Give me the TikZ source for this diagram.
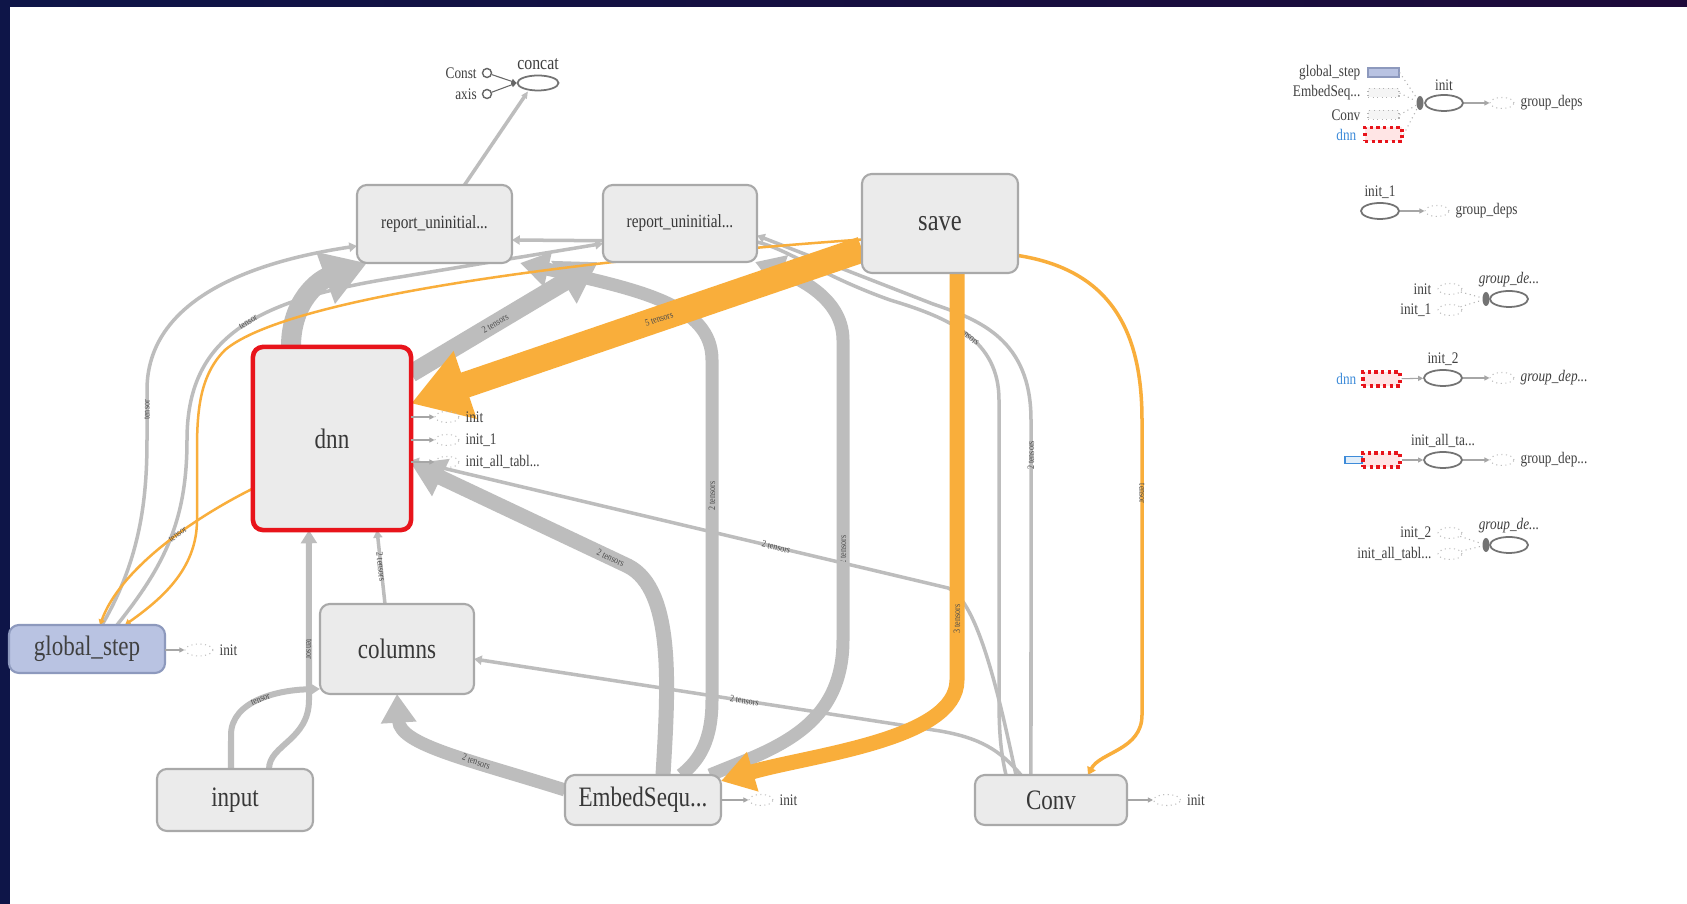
\documentclass[tikz,border=0pt]{standalone}
\usepackage{fontspec}
\setmainfont{Liberation Serif}[FakeStretch=0.82]
\usetikzlibrary{arrows.meta,shapes.geometric,positioning}
\definecolor{nodefill}{HTML}{EBEBEB}
\definecolor{nodeline}{HTML}{A9A9A9}
\definecolor{edgegray}{HTML}{BDBDBD}
\definecolor{reforange}{HTML}{F9AE3B}
\definecolor{dnnred}{HTML}{E8141B}
\definecolor{stepblue}{HTML}{B9C3E2}
\definecolor{stepline}{HTML}{8D99BD}
\definecolor{framedark}{HTML}{0E1548}
\definecolor{frametop}{HTML}{1E0A3A}
\definecolor{linkblue}{HTML}{3D8BD9}
\pgfdeclarelayer{back}
\pgfdeclarelayer{edges}
\pgfsetlayers{back,edges,main}

\tikzset{
	op/.style={draw=nodeline, fill=nodefill, rounded corners=0.1cm, line width=0.6pt, inner sep=0pt, outer sep=0pt, text=black!78, font=\fontsize{8}{9}\selectfont},
	gband/.style={line width=#1, -{Triangle[length=0pt 2.2, width=0pt 2.6]}},
	gline/.style={gband=0.035cm, draw=edgegray},
	oline/.style={gband=0.025cm, draw=reforange},
	elab/.style={font=\fontsize{2.8}{3}\selectfont, text=black!70, inner sep=0.5pt, sloped},
	tiny/.style={font=\fontsize{4.6}{5}\selectfont, inner sep=0.4pt, text=black!75},
	stub/.style={ellipse, draw=black!25, densely dotted, line width=0.3pt, minimum width=0.24cm, minimum height=0.11cm, inner sep=0pt},
	sarrow/.style={draw=black!35, line width=0.3pt, -{Triangle[length=0.05cm, width=0.05cm]}},
	oval/.style={ellipse, draw=black!55, line width=0.5pt, minimum width=0.38cm, minimum height=0.16cm, inner sep=0pt},
	mini/.style={rectangle, draw=black!30, densely dotted, line width=0.3pt, fill=black!4, minimum width=0.31cm, minimum height=0.09cm, inner sep=0pt},
	redmini/.style={mini, draw=dnnred, fill=red!10, line width=0.9pt, minimum width=0.37cm, minimum height=0.14cm},
	blob/.style={ellipse, fill=black!55, minimum width=0.07cm, minimum height=0.14cm, inner sep=0pt},
	cin/.style={circle, draw=black!60, line width=0.4pt, minimum size=0.09cm, inner sep=0pt}
}

\begin{document}
\begin{tikzpicture}[x=0.01cm,y=-0.01cm]
	\useasboundingbox (0,0) rectangle (1687,904);
	\begin{pgfonlayer}{back}
	\fill[framedark] (0,0) rectangle (1687,904);
	\shade[left color=framedark, right color=frametop] (0,0) rectangle (1687,7);
	\fill[white] (10,7) rectangle (1687,904);
	\end{pgfonlayer}

	% main graph
	\node[op, minimum width=1.55cm, minimum height=0.78cm, font=\fontsize{5.3}{6}\selectfont] (rptA) at (434.5,224) {report\_uninitial...};
	\node[op, minimum width=1.54cm, minimum height=0.77cm, font=\fontsize{5.3}{6}\selectfont] (rptB) at (680,223.5) {report\_uninitial...};
	\node[op, minimum width=1.56cm, minimum height=0.99cm, font=\fontsize{8.5}{9}\selectfont] (save) at (940,223.5) {save};
	\node[op, draw=dnnred, line width=1.3pt, minimum width=1.58cm, minimum height=1.83cm] (dnn) at (332,438.5) {dnn};
	\node[op, fill=stepblue, draw=stepline, text=black!75, minimum width=1.56cm, minimum height=0.48cm] (gstep) at (87,649) {global\_step};
	\node[op, minimum width=1.54cm, minimum height=0.90cm] (columns) at (397,649) {columns};
	\node[op, minimum width=1.56cm, minimum height=0.62cm] (input) at (235,800) {input};
	\node[op, minimum width=1.56cm, minimum height=0.50cm] (embed) at (643,800) {EmbedSequ...};
	\node[op, minimum width=1.52cm, minimum height=0.50cm] (conv) at (1051,800) {Conv};

	% concat
	\node[oval, minimum width=0.41cm, minimum height=0.15cm] (concat) at (538,83) {};
	\node[font=\fontsize{5.5}{6}\selectfont, text=black!75, inner sep=0.5pt, above=0.02cm of concat] (concatT) {concat};
	\node[cin] (cconst) at (487,73) {};
	\node[tiny, left=0.03cm of cconst] (cconstT) {Const};
	\node[cin] (caxis) at (487,94) {};
	\node[tiny, left=0.03cm of caxis] (caxisT) {axis};
	\draw[sarrow, draw=black!60] (cconst) -- (concat.west);
	\draw[sarrow, draw=black!60] (caxis) -- (concat.west);

	% init stubs
	\node[stub] (dn1) at (447,417) {};
	\node[tiny, right=0.04cm of dn1] (dn1T) {init};
	\node[stub] (dn2) at (447,440) {};
	\node[tiny, right=0.04cm of dn2] (dn2T) {init\_1};
	\node[stub] (dn3) at (447,462) {};
	\node[tiny, right=0.04cm of dn3] (dn3T) {init\_all\_tabl...};
	\foreach \s in {dn1,dn2,dn3} \draw[sarrow] (dnn.east |- \s) -- (\s);
	\node[stub, minimum width=0.28cm, minimum height=0.12cm] (gs1) at (199,650) {};
	\node[tiny, right=0.04cm of gs1] (gs1T) {init};
	\draw[sarrow] (gstep.east |- gs1) -- (gs1);
	\node[stub] (em1) at (761,800) {};
	\node[tiny, right=0.04cm of em1] (em1T) {init};
	\draw[sarrow] (embed.east |- em1) -- (em1);
	\node[stub, minimum width=0.27cm] (cv1) at (1167,800) {};
	\node[tiny, right=0.04cm of cv1] (cv1T) {init};
	\draw[sarrow] (conv.east |- cv1) -- (cv1);

	\begin{pgfonlayer}{edges}
	% gray edges
	\draw[gband=0.2cm, edgegray] ([xshift=-0.41cm]dnn.north) .. controls (291,300) and (320,280) .. ([xshift=0.1cm]rptA.south west);
	\draw[gband=0.18cm, edgegray] ([yshift=0.65cm]dnn.east) -- ([xshift=-0.05cm]rptB.south west) node[elab, pos=0.45] {2 tensors};
	\draw[gband=0.13cm, edgegray] ([xshift=0.38cm]embed.north) .. controls (700,760) and (712,740) .. (712,700) -- (712,360) node[elab, pos=0.6] {2 tensors} .. controls (712,305) and (640,290) .. ([xshift=0.08cm]rptA.south east);
	\draw[gband=0.13cm, edgegray] ([xshift=0.67cm]embed.north) .. controls (770,750) and (843,730) .. (843,640) -- (843,340) node[elab, pos=0.3] {2 tensors} .. controls (843,295) and (790,275) .. ([xshift=-0.02cm]rptB.south east);
	\draw[gband=0.15cm, edgegray] ([xshift=0.2cm]embed.north) .. controls (668,690) and (675,590) .. (628,566) -- ([yshift=-0.25cm]dnn.east) node[elab, pos=0.08] {2 tensors};
	\draw[gline] ([xshift=-0.35cm]conv.north) .. controls (1000,700) and (978,600) .. (948,588) -- ([yshift=-0.22cm]dnn.east) node[elab, pos=0.32] {2 tensors};
	\draw[gline] ([xshift=-0.3cm]conv.north) .. controls (1000,750) and (980,738) .. (940,731) -- ([yshift=-0.1cm]columns.east) node[elab, pos=0.42] {2 tensors};
	\draw[gline] ([xshift=-0.2cm]conv.north) -- (1031,420) node[elab, pos=0.9] {2 tensors} .. controls (1031,340) and (980,320) .. (933,304) -- ([yshift=-0.12cm]rptB.east);
	\draw[gline] ([xshift=-0.45cm]conv.north) .. controls (999,745) and (999,720) .. (999,690) -- (999,400) .. controls (999,340) and (950,318) .. (890,300) node[elab, pos=0.5] {2 tensors} .. controls (820,275) and (790,250) .. (757,242) -- ([yshift=-0.16cm]rptA.east);
	\draw[gline] ([xshift=0.3cm]gstep.north) .. controls (165,565) and (187,520) .. (187,440) .. controls (187,340) and (250,300) .. (400,277) node[elab, pos=0.55] {tensor} -- ([yshift=-0.2cm]rptB.west);
	\draw[gline] ([xshift=0.15cm]gstep.north) .. controls (140,560) and (147,500) .. (147,440) -- (147,390) node[elab, pos=0.6] {tensor} .. controls (147,300) and (250,262) .. ([yshift=-0.22cm]rptA.west);
	\draw[gband=0.06cm, edgegray] ([xshift=0.34cm]input.north) .. controls (269,745) and (309,740) .. (309,700) -- ([xshift=-0.23cm]dnn.south) node[elab, pos=0.3] {tensor};
	\draw[gband=0.06cm, edgegray] ([xshift=-0.04cm]input.north) -- (231,735) .. controls (231,700) and (280,690) .. ([yshift=-0.4cm]columns.west) node[elab, pos=0.5] {tensor};
	\draw[gline] ([xshift=-0.12cm]columns.north) -- ([xshift=0.45cm]dnn.south) node[elab, pos=0.5] {2 tensors};
	\draw[gband=0.13cm, edgegray] ([yshift=0.1cm]embed.west) .. controls (470,760) and (400,745) .. (columns.south) node[elab, pos=0.35] {2 tensors};
	\draw[gline, -{Triangle[length=0.07cm, width=0.06cm]}] ([xshift=0.3cm]rptA.north) -- ([xshift=-0.1cm]concat.south);
	% orange edges
	\draw[oline] ([yshift=-0.16cm]save.west) .. controls (600,258) and (290,295) .. (225,350) .. controls (200,375) and (197,410) .. (197,450) -- (197,520) .. controls (197,570) and (160,600) .. ([xshift=0.38cm]gstep.north);
	\draw[oline] ([yshift=-0.5cm]dnn.west) .. controls (190,520) and (120,570) .. ([xshift=0.13cm]gstep.north) node[elab, pos=0.4] {tensor};
	\draw[gband=0.26cm, reforange] ([yshift=-0.26cm]save.west) -- ([yshift=0.35cm]dnn.east) node[elab, pos=0.45] {5 tensors};
	\draw[gband=0.15cm, reforange] ([xshift=0.17cm]save.south) -- (957,680) node[elab, pos=0.85] {3 tensors} .. controls (957,740) and (810,755) .. ([yshift=-0.06cm]embed.north east);
	\draw[gband=0.035cm, reforange] ([yshift=-0.32cm]save.east) .. controls (1110,270) and (1142,330) .. (1142,420) -- (1142,715) node[elab, pos=0.25] {tensor} .. controls (1142,750) and (1100,752) .. ([xshift=0.37cm]conv.north);
	%\draw[oline] (save.east) -- (conv.north);
	\end{pgfonlayer}

	% right panel
	\node[mini, fill=stepblue, draw=stepline, solid] (pgs) at (1383.5,72.5) {};
	\node[mini] (pemb) at (1383.5,93) {};
	\node[mini] (pconv) at (1383.5,115) {};
	\node[redmini] (pdnn) at (1383.5,134.5) {};
	\node[tiny, left=0.05cm of pgs] (pgsT) {global\_step};
	\node[tiny, left=0.05cm of pemb] (pembT) {EmbedSeq...};
	\node[tiny, left=0.05cm of pconv] (pconvT) {Conv};
	\node[tiny, left=0.05cm of pdnn, text=linkblue] (pdnnT) {dnn};
	\node[blob] (pj1) at (1420,103) {};
	\node[oval] (pinit) at (1444,103) {};
	\node[tiny, above=0.01cm of pinit] (pinitT) {init};
	\node[stub] (pdep1) at (1502,103) {};
	\node[tiny, right=0.04cm of pdep1] (pdep1T) {group\_deps};
	\foreach \s in {pgs,pemb,pconv,pdnn} \draw[black!30, densely dotted, line width=0.3pt] (\s.east) -- (pj1);
	\draw[sarrow] (pinit) -- (pdep1);

	\node[oval] (pinitA) at (1380,211) {};
	\node[tiny, above=0.01cm of pinitA] (pinitAT) {init\_1};
	\node[stub] (pdep2) at (1437,211) {};
	\node[tiny, right=0.04cm of pdep2] (pdep2T) {group\_deps};
	\draw[sarrow] (pinitA) -- (pdep2);

	\node[oval] (pgdA) at (1509,299) {};
	\node[tiny, above=0.01cm of pgdA, font=\fontsize{4.6}{5}\selectfont\itshape] (pgdAT) {group\_de...};
	\node[blob] (pj2) at (1486,299) {};
	\node[stub] (pgdA1) at (1450,289) {};
	\node[tiny, left=0.04cm of pgdA1] (pgdA1T) {init};
	\node[stub] (pgdA2) at (1450,310) {};
	\node[tiny, left=0.04cm of pgdA2] (pgdA2T) {init\_1};
	\foreach \s in {pgdA1,pgdA2} \draw[black!30, densely dotted, line width=0.3pt] (\s) -- (pj2);

	\node[redmini] (pdnnB) at (1381.5,379) {};
	\node[tiny, left=0.03cm of pdnnB, text=linkblue] (pdnnBT) {dnn};
	\node[oval] (pinitB) at (1443,378) {};
	\node[tiny, above=0.01cm of pinitB] (pinitBT) {init\_2};
	\node[stub] (pdep3) at (1502,378) {};
	\node[tiny, right=0.04cm of pdep3, font=\fontsize{4.6}{5}\selectfont\itshape] (pdep3T) {group\_dep...};
	\draw[sarrow] (pdnnB) -- (pinitB);
	\draw[sarrow] (pinitB) -- (pdep3);

	\node[rectangle, draw=linkblue, fill=linkblue!15, line width=0.4pt, minimum width=0.17cm, minimum height=0.07cm, inner sep=0pt] (pblue) at (1353.5,460) {};
	\node[redmini] (pdnnC) at (1381.5,460) {};
	\node[oval] (pinitC) at (1443,460) {};
	\node[tiny, above=0.01cm of pinitC] (pinitCT) {init\_all\_ta...};
	\node[stub] (pdep4) at (1502,460) {};
	\node[tiny, right=0.04cm of pdep4] (pdep4T) {group\_dep...};
	\draw[sarrow] (pdnnC) -- (pinitC);
	\draw[sarrow] (pinitC) -- (pdep4);

	\node[oval] (pgdB) at (1509,545) {};
	\node[tiny, above=0.01cm of pgdB, font=\fontsize{4.6}{5}\selectfont\itshape] (pgdBT) {group\_de...};
	\node[blob] (pj3) at (1486,545) {};
	\node[stub] (pgdB1) at (1450,533) {};
	\node[tiny, left=0.04cm of pgdB1] (pgdB1T) {init\_2};
	\node[stub] (pgdB2) at (1450,554) {};
	\node[tiny, left=0.04cm of pgdB2] (pgdB2T) {init\_all\_tabl...};
	\foreach \s in {pgdB1,pgdB2} \draw[black!30, densely dotted, line width=0.3pt] (\s) -- (pj3);
\end{tikzpicture}
\end{document}
